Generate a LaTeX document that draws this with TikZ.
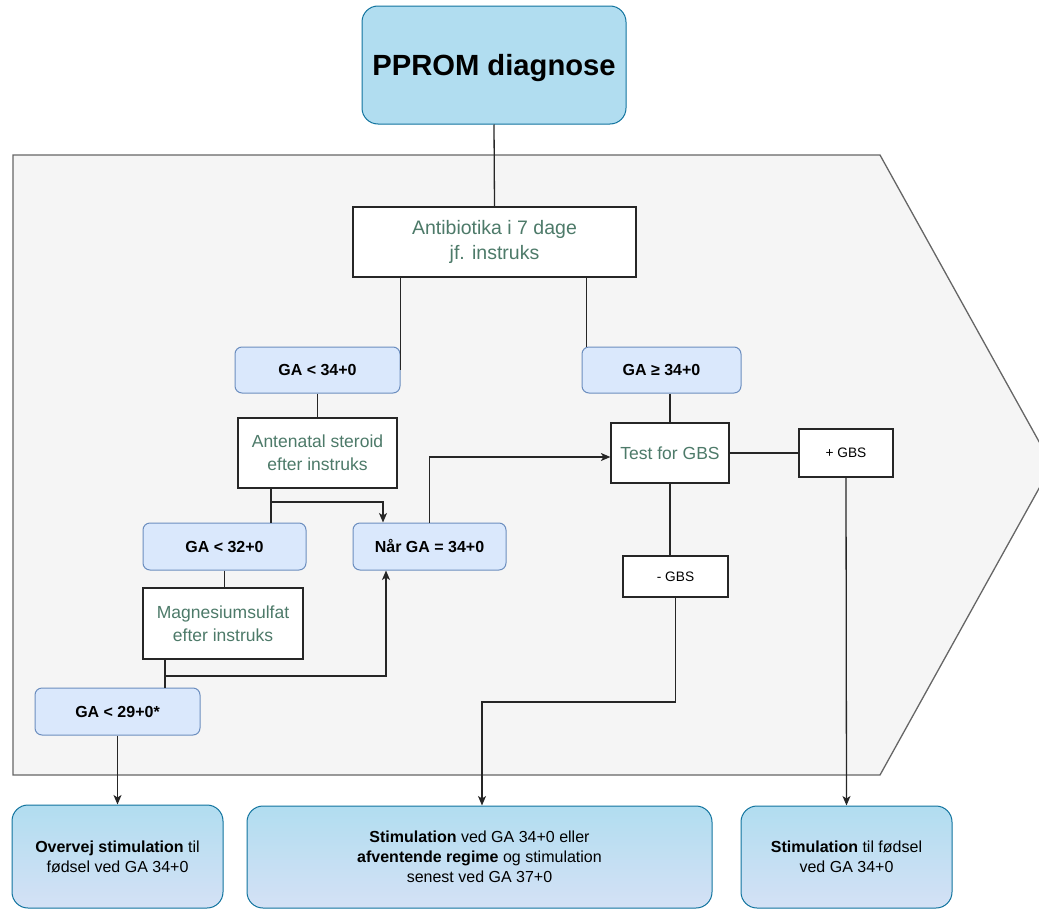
\documentclass[tikz,border=0pt]{standalone}
\usepackage{fontspec}
\setmainfont{Liberation Sans}
\usetikzlibrary{arrows.meta}

\definecolor{startfill}{HTML}{B1DDF0}
\definecolor{startline}{HTML}{10739E}
\definecolor{endfill}{HTML}{D4E1F5}
\definecolor{gafill}{HTML}{DAE8FC}
\definecolor{galine}{HTML}{6C8EBF}
\definecolor{textgreen}{HTML}{4D7A69}
\definecolor{bgfill}{HTML}{F5F5F5}
\definecolor{bgline}{HTML}{666666}

\begin{document}
\begin{tikzpicture}[x=1pt,y=-1pt,
    startbox/.style={draw=startline,fill=startfill,line width=1pt,rounded corners=16pt,
        inner sep=0pt,text depth=0pt,align=center,font=\fontsize{29.2}{35}\selectfont\bfseries},
    endbox/.style={draw=startline,top color=startfill,bottom color=endfill,line width=1pt,
        rounded corners=16pt,inner sep=0pt,align=center,font=\fontsize{16}{20}\selectfont},
    gabox/.style={draw=galine,fill=gafill,line width=1pt,rounded corners=7pt,
        inner sep=0pt,font=\fontsize{16}{20}\selectfont\bfseries},
    stepbox/.style={draw=black!85,fill=white,line width=1.2pt,inner sep=0pt,align=center,
        text=textgreen,font=\fontsize{17.5}{23}\selectfont},
    gbsbox/.style={draw=black!85,fill=white,line width=1.2pt,inner sep=0pt,
        font=\fontsize{13.7}{16}\selectfont},
    conn/.style={draw=black!85,line width=1.3pt},
    arr/.style={conn,-{Stealth[length=9.5pt,width=8pt,inset=2.5pt]}}]

    \useasboundingbox (0,0) rectangle (1039,910);
    \clip (0,0) rectangle (1039,910);

    % background arrow
    \draw[fill=bgfill,draw=bgline,line width=1.3pt]
        (13,155) -- (880,155) -- (1052,465) -- (880,775) -- (13,775) -- cycle;

    % diagnosis
    \node[startbox,minimum width=264pt,minimum height=118pt] (diag) at (494,65) {PPROM diagnose};

    % antibiotics
    \node[stepbox,font=\fontsize{19.5}{25}\selectfont,minimum width=283pt,minimum height=70pt]
        (anti) at (494.5,242) {Antibiotika i 7 dage\\jf. instruks};

    % gestational age split
    \node[gabox,minimum width=165pt,minimum height=46pt] (galow) at (317.5,370) {GA < 34+0};
    \node[gabox,minimum width=159pt,minimum height=46pt] (gahigh) at (661.5,370) {GA ≥ 34+0};

    % steroid
    \node[stepbox,minimum width=159pt,minimum height=70pt] (steroid) at (317.5,453)
        {Antenatal steroid\\efter instruks};

    % GBS test and results
    \node[stepbox,minimum width=118pt,minimum height=60pt] (gbstest) at (670,453) {Test for GBS};
    \node[gbsbox,minimum width=94pt,minimum height=48pt] (gbspos) at (846,453) {+ GBS};
    \node[gbsbox,minimum width=105pt,minimum height=41pt] (gbsneg) at (675.5,576.5) {- GBS};

    % lower gestational ages
    \node[gabox,minimum width=163pt,minimum height=47pt] (ga32) at (224.5,546.5) {GA < 32+0};
    \node[gabox,minimum width=153pt,minimum height=47pt] (naar) at (429.5,546.5) {Når GA = 34+0};

    % magnesium
    \node[stepbox,minimum width=160pt,minimum height=71pt] (magnes) at (223,623.5)
        {Magnesiumsulfat\\efter instruks};

    \node[gabox,minimum width=165pt,minimum height=47pt] (ga29) at (117.5,711.5) {GA < 29+0*};

    % outcomes
    \node[endbox,minimum width=211pt,minimum height=103pt] (outleft) at (117.5,856.5)
        {\textbf{Overvej stimulation} til\\fødsel ved GA 34+0};
    \node[endbox,minimum width=465pt,minimum height=102pt] (outmid) at (479.5,857)
        {\textbf{Stimulation} ved GA 34+0 eller\\\textbf{afventende regime} og stimulation\\senest ved GA 37+0};
    \node[endbox,minimum width=211pt,minimum height=102pt] (outright) at (846.5,857)
        {\textbf{Stimulation} til fødsel\\ved GA 34+0};

    % junctions
    \coordinate (stsplit) at (271,502);
    \coordinate (mgsplit) at (165,676);
    \coordinate (negturn) at (482,702);

    % connectors
    \draw[conn] (diag.south) -- (anti.north);
    \draw[conn] (galow.east |- anti.south) -- (galow.east);
    \draw[conn] ([xshift=5pt]gahigh.north west |- anti.south) -- ([xshift=5pt]gahigh.north west);
    \draw[conn] (galow.south) -- (steroid.north);
    \draw[conn] (stsplit |- steroid.south) -- (stsplit |- ga32.north);
    \draw[arr] (stsplit) -| ([xshift=-46.5pt]naar.north);
    \draw[arr] (naar.north) |- ([yshift=-4pt]gbstest.west);
    \draw[conn] (gbstest.north |- gahigh.south) -- (gbstest.north);
    \draw[conn] (gbstest.east) -- (gbspos.west);
    \draw[conn] (gbstest.south) -- (gbstest.south |- gbsneg.north);
    \draw[arr] (gbsneg.south) |- (negturn) -- (negturn |- outmid.north);
    \draw[arr] (gbspos.south) -- (outright.north);
    \draw[conn] (ga32.south) -- (ga32.south |- magnes.north);
    \draw[conn] (mgsplit |- magnes.south) -- (mgsplit |- ga29.north);
    \draw[arr] (mgsplit) -| ([xshift=-43.5pt]naar.south);
    \draw[arr] (ga29.south) -- (outleft.north);

\end{tikzpicture}
\end{document}
